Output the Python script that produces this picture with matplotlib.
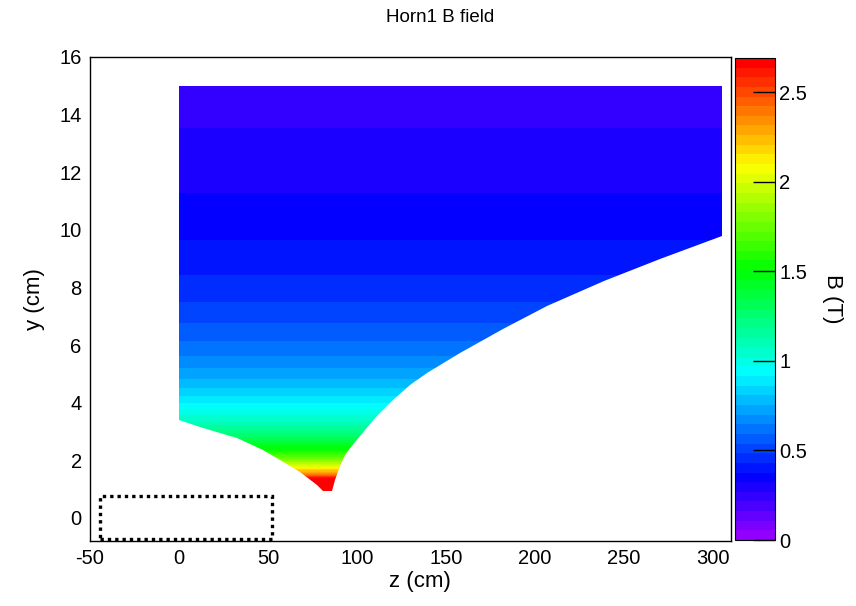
import colorsys

import matplotlib
matplotlib.use('Agg')
import matplotlib.pyplot as plt
from matplotlib.colors import ListedColormap, Normalize
from matplotlib.path import Path
from matplotlib.patches import PathPatch, Rectangle

plt.rcParams['font.family'] = ['Liberation Sans', 'DejaVu Sans']
plt.rcParams['axes.unicode_minus'] = False

# y (cm) where the palette colour changes, bottom to top
y_edges = [0.85, 1.38, 1.41, 1.44, 1.47, 1.50, 1.54, 1.57, 1.61, 1.65, 1.69,
           1.73, 1.78, 1.83, 1.88, 1.93, 1.99, 2.05, 2.11, 2.18, 2.25, 2.33,
           2.41, 2.50, 2.60, 2.70, 2.82, 2.94, 3.07, 3.22, 3.38, 3.56, 3.76,
           3.98, 4.23, 4.51, 4.83, 5.20, 5.63, 6.15, 6.76, 7.51, 8.45, 9.66,
           11.27, 13.52, 15.0]
# B (T) in each band
b_band = [2.66, 2.61, 2.56, 2.50, 2.45, 2.39, 2.34, 2.29, 2.23, 2.18, 2.12,
          2.07, 2.02, 1.96, 1.91, 1.86, 1.80, 1.75, 1.69, 1.64, 1.59, 1.53,
          1.48, 1.43, 1.37, 1.32, 1.26, 1.21, 1.16, 1.10, 1.05, 0.99, 0.94,
          0.89, 0.83, 0.78, 0.73, 0.67, 0.62, 0.56, 0.51, 0.46, 0.40, 0.35,
          0.30, 0.24]

# inner conductor outline, upstream end -> neck -> downstream end
cond_z = [0, 13.7, 32.4, 47.4, 56.7, 68.0, 77.4, 81.1, 86.0, 87.6, 90.4,
          93.3, 96.5, 101.7, 110.5, 120.4, 129.5, 139.2, 157.9, 182.2, 206.6,
          238.4, 270.2, 305]
cond_y = [3.41, 3.13, 2.78, 2.37, 2.02, 1.61, 1.15, 0.92, 0.92, 1.32, 1.79,
          2.17, 2.48, 2.83, 3.50, 4.11, 4.62, 5.04, 5.74, 6.55, 7.36,
          8.23, 8.99, 9.80]

z_start, z_end = 0, 305
outer_r = 15.0
b_max = 2.69

# target outline (dotted box)
target_z = [-44.5, 52]
target_y = [-0.72, 0.77]

# ROOT "pretty" palette, violet -> red
palette = [colorsys.hls_to_rgb((280 - (i + 1) * 5.6) / 360.0, 0.5, 1.0) for i in range(50)]
cmap = ListedColormap(palette)

fig = plt.figure(figsize=(8.56, 6.06), dpi=100)
W, H = 856, 606
ax = fig.add_axes([90 / W, 1 - 541 / H, 641 / W, 484 / H])
cax = fig.add_axes([735 / W, 1 - 540 / H, 40 / W, 482 / H])

C = [[b] for b in b_band]
mesh = ax.pcolormesh([z_start, z_end], y_edges, C, cmap=cmap,
                     norm=Normalize(0, b_max), shading='flat')

verts = [(z_start, outer_r)] + list(zip(cond_z, cond_y)) + [(z_end, outer_r), (z_start, outer_r)]
clip = PathPatch(Path(verts, closed=True), transform=ax.transData,
                 facecolor='none', edgecolor='none')
ax.add_patch(clip)
mesh.set_clip_path(clip)

ax.add_patch(Rectangle((target_z[0], target_y[0]), target_z[1] - target_z[0],
                       target_y[1] - target_y[0], fill=False, edgecolor='black',
                       linestyle=(0, (1, 1.2)), linewidth=2.4, clip_on=False, zorder=5))

ax.set_xlim(-50, 310)
ax.set_ylim(-0.8, 16)
ax.set_xticks(range(-50, 301, 50))
ax.set_yticks(range(0, 17, 2))
ax.tick_params(length=0, labelsize=14.5, pad=6)
ax.set_xlabel('z (cm)', fontsize=16, labelpad=1)
ax.xaxis.set_label_coords(0.515, -0.062)
ax.set_ylabel('y (cm)', fontsize=16, labelpad=10)
for s in ax.spines.values():
    s.set_linewidth(1.0)

cb = fig.colorbar(mesh, cax=cax)
cb.set_ticks([0, 0.5, 1, 1.5, 2, 2.5])
cb.set_ticklabels(['0', '0.5', '1', '1.5', '2', '2.5'])
cax.tick_params(direction='in', length=16, width=1, labelsize=14.5, pad=3)
cb.outline.set_linewidth(0.8)
cb.set_label('B (T)', fontsize=16, rotation=270, labelpad=26)

fig.text(0.514, 1 - 18 / H, 'Horn1 B field', ha='center', va='center', fontsize=13.5)

fig.savefig('out.png', dpi=100)
